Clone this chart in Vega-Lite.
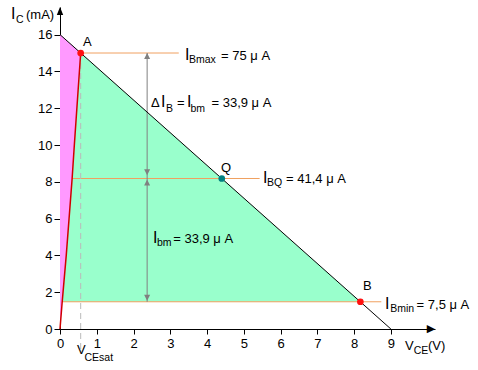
{
  "$schema": "https://vega.github.io/schema/vega-lite/v6.json",
  "width": 375,
  "height": 322,
  "autosize": "none",
  "padding": {"left": 60, "top": 7, "right": 43, "bottom": 41},
  "background": "white",
  "config": {
    "view": {"stroke": null},
    "font": "Liberation Sans",
    "axis": {
      "grid": false, "title": null, "domainColor": "black", "tickColor": "black",
      "labelColor": "black", "labelFont": "Liberation Sans", "labelFontSize": 13,
      "domainWidth": 1, "tickWidth": 1
    }
  },
  "datasets": {
    "pink": [
      {"y": 0, "x": 0, "x2": 0},
      {"y": 1.48, "x": 0, "x2": 0.06},
      {"y": 4, "x": 0, "x2": 0.17},
      {"y": 8.18, "x": 0, "x2": 0.33},
      {"y": 10, "x": 0, "x2": 0.39},
      {"y": 15, "x": 0, "x2": 0.5625},
      {"y": 16, "x": 0, "x2": 0}
    ],
    "green": [
      {"y": 1.48, "x": 0.06, "x2": 8.1675},
      {"y": 4, "x": 0.17, "x2": 6.75},
      {"y": 8.18, "x": 0.33, "x2": 4.399},
      {"y": 10, "x": 0.39, "x2": 3.375},
      {"y": 15, "x": 0.5625, "x2": 0.5625}
    ],
    "lines": [
      {"k": "orange", "id": "max", "o": 0, "x": 0.5625, "y": 15},
      {"k": "orange", "id": "max", "o": 1, "x": 3.23, "y": 15},
      {"k": "orange", "id": "q", "o": 0, "x": 0.33, "y": 8.18},
      {"k": "orange", "id": "q", "o": 1, "x": 5.43, "y": 8.18},
      {"k": "orange", "id": "min", "o": 0, "x": 0.06, "y": 1.48},
      {"k": "orange", "id": "min", "o": 1, "x": 8.74, "y": 1.48},
      {"k": "gray", "id": "arrow", "o": 0, "x": 2.37, "y": 15},
      {"k": "gray", "id": "arrow", "o": 1, "x": 2.37, "y": 1.48},
      {"k": "dash", "id": "sat", "o": 0, "x": 0.5625, "y": 15},
      {"k": "dash", "id": "sat", "o": 1, "x": 0.5625, "y": -1.1},
      {"k": "load", "id": "load", "o": 0, "x": 0, "y": 16},
      {"k": "load", "id": "load", "o": 1, "x": 9, "y": 0},
      {"k": "red", "id": "satc", "o": 0, "x": 0, "y": 0},
      {"k": "red", "id": "satc", "o": 1, "x": 0.06, "y": 1.48},
      {"k": "red", "id": "satc", "o": 2, "x": 0.17, "y": 4},
      {"k": "red", "id": "satc", "o": 3, "x": 0.33, "y": 8.18},
      {"k": "red", "id": "satc", "o": 4, "x": 0.39, "y": 10},
      {"k": "red", "id": "satc", "o": 5, "x": 0.5625, "y": 15}
    ],
    "heads": [
      {"x": 2.37, "y": 15, "d": "up"},
      {"x": 2.37, "y": 8.35, "d": "down"},
      {"x": 2.37, "y": 8.12, "d": "up"},
      {"x": 2.37, "y": 1.53, "d": "down"}
    ],
    "yhead": [
      {"x": 0, "y": 17.5}
    ],
    "xhead": [
      {"x": 10.15, "y": 0.01, "t": "▶"}
    ],
    "pts": [
      {"n": "A", "x": 0.5625, "y": 15},
      {"n": "Q", "x": 4.4, "y": 8.18},
      {"n": "B", "x": 8.17, "y": 1.48}
    ],
    "labels": [
      {"x": -1.333, "y": 16.85, "t": "I", "r": "big"},
      {"x": -1.197, "y": 16.63, "t": "C", "r": "sub"},
      {"x": -0.925, "y": 16.85, "t": "(mA)", "r": "norm"},
      {"x": 0.626, "y": 15.38, "t": "A", "r": "norm"},
      {"x": 3.40, "y": 14.62, "t": "I", "r": "big"},
      {"x": 3.509, "y": 14.46, "t": "Bmax", "r": "sub"},
      {"x": 4.38, "y": 14.62, "t": "= 75 μ A", "r": "norm"},
      {"x": 2.476, "y": 12.07, "t": "Δ", "r": "norm"},
      {"x": 2.748, "y": 12.07, "t": "I", "r": "big"},
      {"x": 2.884, "y": 11.82, "t": "B", "r": "sub"},
      {"x": 3.183, "y": 12.07, "t": "=", "r": "norm"},
      {"x": 3.455, "y": 12.07, "t": "I", "r": "big"},
      {"x": 3.55, "y": 11.82, "t": "bm", "r": "sub"},
      {"x": 4.121, "y": 12.07, "t": "= 33,9 μ A", "r": "norm"},
      {"x": 4.38, "y": 8.53, "t": "Q", "r": "norm"},
      {"x": 5.522, "y": 7.91, "t": "I", "r": "big"},
      {"x": 5.631, "y": 7.745, "t": "BQ", "r": "sub"},
      {"x": 6.148, "y": 7.91, "t": "= 41,4 μ A", "r": "norm"},
      {"x": 2.53, "y": 4.70, "t": "I", "r": "big"},
      {"x": 2.639, "y": 4.51, "t": "bm", "r": "sub"},
      {"x": 3.08, "y": 4.70, "t": "= 33,9 μ A", "r": "norm"},
      {"x": 8.243, "y": 2.12, "t": "B", "r": "norm"},
      {"x": 8.84, "y": 1.114, "t": "I", "r": "big"},
      {"x": 8.98, "y": 0.924, "t": "Bmin", "r": "sub"},
      {"x": 9.70, "y": 1.114, "t": "= 7,5 μ A", "r": "norm"},
      {"x": 0.462, "y": -1.359, "t": "V", "r": "norm"},
      {"x": 0.667, "y": -1.712, "t": "CEsat", "r": "sub"},
      {"x": 9.385, "y": -1.141, "t": "V", "r": "norm"},
      {"x": 9.62, "y": -1.332, "t": "CE", "r": "sub"},
      {"x": 10.01, "y": -1.141, "t": "(V)", "r": "norm"}
    ]
  },
  "encoding": {
    "x": {
      "field": "x", "type": "quantitative",
      "scale": {"domain": [0, 10.2], "nice": false, "zero": false},
      "axis": {"values": [0, 1, 2, 3, 4, 5, 6, 7, 8, 9], "tickSize": 5, "labelPadding": 3, "labelFlush": false}
    },
    "y": {
      "field": "y", "type": "quantitative",
      "scale": {"domain": [0, 17.5], "nice": false, "zero": false},
      "axis": {"values": [0, 2, 4, 6, 8, 10, 12, 14, 16], "tickSize": 6, "labelPadding": 2, "labelFlush": false}
    }
  },
  "layer": [
    {
      "data": {"name": "pink"},
      "mark": {"type": "area", "orient": "horizontal", "color": "#FF99FF", "opacity": 1},
      "encoding": {"x2": {"field": "x2"}}
    },
    {
      "data": {"name": "green"},
      "mark": {"type": "area", "orient": "horizontal", "color": "#99FFCC", "opacity": 1},
      "encoding": {"x2": {"field": "x2"}}
    },
    {
      "data": {"name": "lines"},
      "transform": [{"filter": "datum.k == 'orange'"}],
      "mark": {"type": "line", "color": "#F0A060", "strokeWidth": 1},
      "encoding": {"detail": {"field": "id"}, "order": {"field": "o"}}
    },
    {
      "data": {"name": "lines"},
      "transform": [{"filter": "datum.k == 'dash'"}],
      "mark": {"type": "line", "color": "#BBBBBB", "strokeWidth": 1, "strokeDash": [6, 4]},
      "encoding": {"detail": {"field": "id"}, "order": {"field": "o"}}
    },
    {
      "data": {"name": "lines"},
      "transform": [{"filter": "datum.k == 'gray'"}],
      "mark": {"type": "line", "color": "#808080", "strokeWidth": 1},
      "encoding": {"detail": {"field": "id"}, "order": {"field": "o"}}
    },
    {
      "data": {"name": "lines"},
      "transform": [{"filter": "datum.k == 'load'"}],
      "mark": {"type": "line", "color": "black", "strokeWidth": 1},
      "encoding": {"detail": {"field": "id"}, "order": {"field": "o"}}
    },
    {
      "data": {"name": "lines"},
      "transform": [{"filter": "datum.k == 'red'"}],
      "mark": {"type": "line", "color": "#D00000", "strokeWidth": 1.5},
      "encoding": {"detail": {"field": "id"}, "order": {"field": "o"}}
    },
    {
      "data": {"name": "heads"},
      "mark": {"type": "point", "filled": true, "color": "#808080", "size": 144, "opacity": 1},
      "encoding": {
        "shape": {"field": "d", "type": "nominal", "legend": null,
          "scale": {"domain": ["up", "down"], "range": ["M0,0L0.5,1L-0.5,1Z", "M0,0L0.5,-1L-0.5,-1Z"]}}
      }
    },
    {
      "data": {"name": "yhead"},
      "mark": {"type": "point", "filled": true, "color": "black", "size": 256, "opacity": 1, "shape": "M0,0L0.4,1L-0.4,1Z"}
    },
    {
      "data": {"name": "xhead"},
      "mark": {"type": "text", "align": "right", "baseline": "middle", "fontSize": 11, "font": "DejaVu Sans", "color": "black", "dx": 2},
      "encoding": {"text": {"field": "t"}}
    },
    {
      "data": {"name": "pts"},
      "mark": {"type": "circle", "size": 45, "opacity": 1},
      "encoding": {
        "color": {"field": "n", "type": "nominal", "legend": null,
          "scale": {"domain": ["A", "Q", "B"], "range": ["#FF1010", "#008080", "#FF1010"]}}
      }
    },
    {
      "data": {"name": "labels"},
      "transform": [{"filter": "datum.r == 'norm'"}],
      "mark": {"type": "text", "align": "left", "baseline": "alphabetic", "fontSize": 13, "font": "Liberation Sans", "color": "black"},
      "encoding": {"text": {"field": "t"}}
    },
    {
      "data": {"name": "labels"},
      "transform": [{"filter": "datum.r == 'big'"}],
      "mark": {"type": "text", "align": "left", "baseline": "alphabetic", "fontSize": 16, "font": "Liberation Sans", "color": "black"},
      "encoding": {"text": {"field": "t"}}
    },
    {
      "data": {"name": "labels"},
      "transform": [{"filter": "datum.r == 'sub'"}],
      "mark": {"type": "text", "align": "left", "baseline": "alphabetic", "fontSize": 10.5, "font": "Liberation Sans", "color": "black"},
      "encoding": {"text": {"field": "t"}}
    }
  ]
}
